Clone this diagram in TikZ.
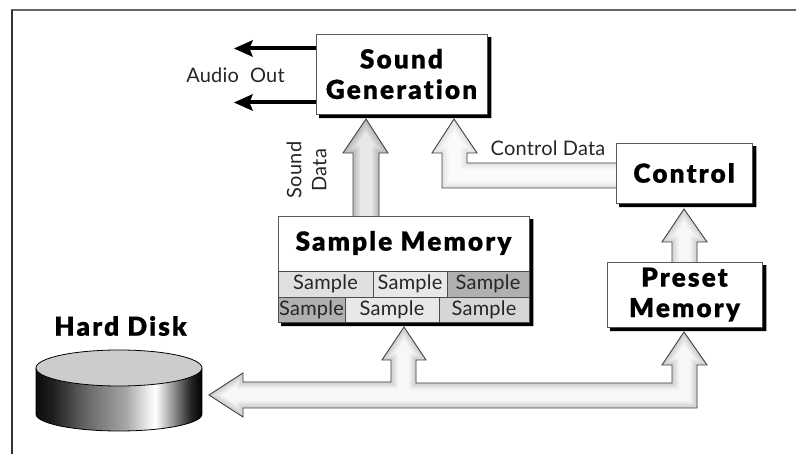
\documentclass[tikz,border=0pt]{standalone}
\usepackage{fontspec}
\setmainfont[LetterSpace=1]{Lato}
\newfontfamily\heavy[LetterSpace=8,FakeBold=0.6,Ligatures=NoCommon]{Lato Black}
\usetikzlibrary{calc}
\tikzset{
  titlefont/.style={font=\heavy\fontsize{26.2}{30.5}\selectfont},
  box/.style={draw=black!65,line width=0.9pt,fill=white,inner sep=0pt,align=center,titlefont},
  cell/.style={draw=black!70,line width=0.8pt,inner sep=0pt,font=\fontsize{20}{24}\selectfont,text=black!85},
  label/.style={inner sep=0pt,font=\fontsize{20}{25}\selectfont,text=black!85,align=center},
  audio/.style={line width=4pt,draw=black},
  outline/.style={draw=black!75,line width=0.9pt,miter limit=10},
}
\newcommand{\fatshape}[5]{%
  \begin{scope}
    \path[clip] #1;
    \fill[#5] #1;
    \draw[#4,line width=13pt] #1;
    \draw[#3,line width=9pt] #1;
    \draw[#2,line width=5pt] #1;
  \end{scope}
  \draw[outline] #1;
}
\newcommand{\boxshadow}[1]{%
  \fill[black] ($(#1.north east)+(0.4,3.6)$) -- ($(#1.north east)+(4,3.6)$) -- ($(#1.south east)+(4,3.6)$)
    -- ($(#1.south west)+(3.6,3.6)$) -- ($(#1.south west)+(3.6,0.4)$) -- ($(#1.south east)+(0.4,0.4)$) -- cycle;
}
\begin{document}
\begin{tikzpicture}[x=1pt,y=-1pt]
\useasboundingbox (0,0) rectangle (796,454);
% frame
\coordinate (frameTL) at (11,10);
\coordinate (frameTR) at (796,10);
\coordinate (frameBL) at (12,454);
\draw[black!60,line width=2pt] (frameTL) -- (frameTR);
\draw[black!80,line width=1.4pt] (frameBL |- frameTL) -- (frameBL);
% boxes
\node[box,minimum width=171pt,minimum height=80pt] (sg) at (401.5,74) {Sound\\Generation};
\node[box,minimum width=136pt,minimum height=60pt] (ctl) at (684,173) {Control};
\node[box,minimum width=155pt,minimum height=65pt] (pm) at (684.5,294.5) {Preset\\Memory};
\node[box,minimum width=251pt,minimum height=106pt] (sm) at (403.5,269) {};
\node[inner sep=0pt,titlefont] (smt) at (403.5,243) {Sample Memory};
\boxshadow{sg}\boxshadow{ctl}\boxshadow{pm}\boxshadow{sm}
% sample cells
\node[cell,fill=black!12,minimum width=95pt,minimum height=26pt] (c1) at (325.5,284) {Sample};
\node[cell,fill=black!9,minimum width=74pt,minimum height=26pt] (c2) at (410,284) {Sample};
\node[cell,fill=black!31,minimum width=82pt,minimum height=26pt] (c3) at (488,284) {Sample};
\node[cell,fill=black!31,minimum width=67pt,minimum height=25pt] (c4) at (311.5,309.5) {Sample};
\node[cell,fill=black!9,minimum width=94pt,minimum height=25pt] (c5) at (392,309.5) {Sample};
\node[cell,fill=black!16,minimum width=90pt,minimum height=25pt] (c6) at (484,309.5) {Sample};
% audio
\coordinate (a1) at (234,48.5);
\coordinate (a2) at (234,102.5);
\foreach \t in {a1,a2}{
  \draw[audio] (sg.west |- \t) -- ($(\t)+(14,0)$);
  \fill (\t) -- ++(19,-8.5) -- ++(-3.5,8.5) -- ++(3.5,8.5) -- cycle;
}
\node[label] (ao) at (235.5,75) {Audio\hspace{6pt} Out};
\node[label,rotate=90] (sd) at (306.5,170) {Sound\\Data};
\node[label] (cd) at (548,148) {Control Data};
% fat arrows
\coordinate (t1) at (366,119);
\fatshape{(353,216) -- (353,153) -- (343,153) -- (t1) -- (388,153) -- (379,153) -- (379,216)}{black!25}{black!20}{black!15}{black!9}
\coordinate (t2) at (454,119);
\fatshape{(616,188) -- (442,188) -- (442,153) -- (432,153) -- (t2) -- (477,153) -- (467,153) -- (467,163) -- (616,163)}{black!10}{black!7}{black!4}{black!2}
\coordinate (t3) at (684,209);
\fatshape{(672,262) -- (672,242) -- (662,242) -- (t3) -- (707,242) -- (697,242) -- (697,262)}{black!16}{black!11}{black!7}{black!3}
\coordinate (t4) at (209,395);
\coordinate (t5) at (404,327);
\coordinate (t6) at (684,332);
\fatshape{(t4) -- (243,373) -- (243,382) -- (391,382) -- (391,360) -- (382,360) -- (t5) -- (426,360) -- (416,360) -- (416,383) -- (672,383) -- (672,365) -- (662,365) -- (t6) -- (707,365) -- (697,365) -- (697,408) -- (243,408) -- (243,417) -- cycle}{black!17}{black!12}{black!7}{black!3}
% hard disk
\node[inner sep=0pt,titlefont] (hd) at (120.5,326) {Hard Disk};
\pgfdeclarehorizontalshading{diskshade}{100bp}{
  color(0bp)=(black!95); color(25bp)=(black!95); color(30bp)=(black!88); color(40bp)=(black!60);
  color(52bp)=(black!35); color(58.5bp)=(black!8); color(61bp)=(white);
  color(66bp)=(black!40); color(71.5bp)=(black!85); color(75bp)=(black); color(100bp)=(black)}
\begin{scope}
\path[clip] (36,368) -- (36,414) arc[x radius=83,y radius=17,start angle=180,end angle=0] -- (202,368) -- cycle;
\path[shading=diskshade] (36,345) rectangle (202,440);
\end{scope}
\draw[black,line width=0.8pt] (36,368) -- (36,414) arc[x radius=83,y radius=17,start angle=180,end angle=0] -- (202,368);
\draw[black,fill=black!20,line width=0.8pt] (119,368) ellipse[x radius=83,y radius=18];
\end{tikzpicture}
\end{document}
